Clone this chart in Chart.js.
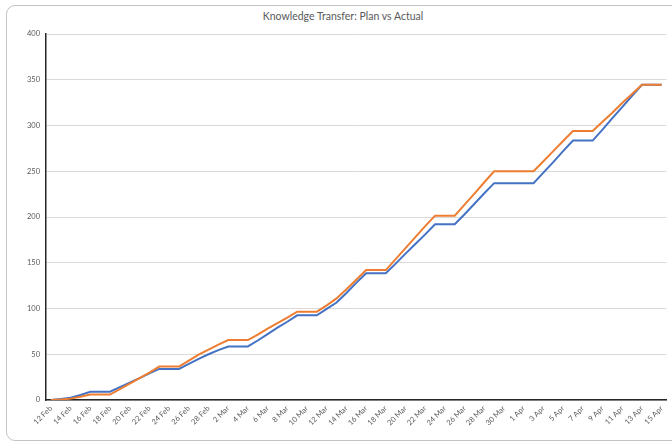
<!DOCTYPE html>
<html>
<head>
<meta charset="utf-8">
<script src="https://cdn.jsdelivr.net/npm/chart.js@4"></script>
<style>
  html, body { margin: 0; padding: 0; background: #ffffff; overflow: hidden; }
  #wrap { position: relative; width: 672px; height: 446px; overflow: hidden; }
  #frame { position: absolute; left: 6px; top: 5px; width: 700px; height: 436px;
           border: 1px solid #c4c4c4; border-radius: 9px; box-sizing: border-box; }
  #title { position: absolute; left: 0; top: 10px; width: 686px; text-align: center;
           font-family: Lato, "Open Sans", sans-serif; font-size: 10.5px; color: #595959; }
  canvas { position: absolute; left: 0; top: 0; }
</style>
</head>
<body>
<div id="wrap">
  <div id="frame"></div>
  <div id="title">Knowledge Transfer: Plan vs Actual</div>
  <canvas id="c" width="672" height="446"></canvas>
</div>
<script>
const days = [
  "12 Feb","13 Feb","14 Feb","15 Feb","16 Feb","17 Feb","18 Feb","19 Feb","20 Feb","21 Feb",
  "22 Feb","23 Feb","24 Feb","25 Feb","26 Feb","27 Feb","28 Feb","1 Mar","2 Mar","3 Mar",
  "4 Mar","5 Mar","6 Mar","7 Mar","8 Mar","9 Mar","10 Mar","11 Mar","12 Mar","13 Mar",
  "14 Mar","15 Mar","16 Mar","17 Mar","18 Mar","19 Mar","20 Mar","21 Mar","22 Mar","23 Mar",
  "24 Mar","25 Mar","26 Mar","27 Mar","28 Mar","29 Mar","30 Mar","31 Mar","1 Apr","2 Apr",
  "3 Apr","4 Apr","5 Apr","6 Apr","7 Apr","8 Apr","9 Apr","10 Apr","11 Apr","12 Apr",
  "13 Apr","14 Apr","15 Apr"
];

const plan = [
  0, 1, 2.5, 5.5, 9, 9, 9, 14, 19, 24,
  29, 34, 34, 34, 39.5, 45, 50, 54.5, 58.5, 58.5,
  58.5, 65, 72, 79, 85.5, 92.5, 92.5, 92.5, 99.5, 106.5,
  117, 128, 138.5, 138.5, 138.5, 149, 160, 170.5, 181, 192,
  192, 192, 203, 214.5, 226, 237, 237, 237, 237, 237,
  248.5, 260, 272, 283.5, 283.5, 283.5, 295.5, 308, 320, 332.5,
  344.5, 344.5, 344.5
];

const actual = [
  0, 0.5, 1.5, 3.5, 6, 6, 6, 12, 18, 24,
  30, 36.5, 36.5, 36.5, 43, 49.5, 55, 60.5, 65.5, 65.5,
  65.5, 71.5, 78, 84, 90, 96.5, 96.5, 96.5, 103.5, 111,
  121, 131.5, 142, 142, 142, 154, 166, 178, 190, 201.5,
  201.5, 201.5, 213.5, 225.5, 238, 250, 250, 250, 250, 250,
  261, 272, 283, 294, 294, 294, 304, 314, 324.5, 334.5,
  344.5, 344.5, 344.5
];

const yTicks = [0, 50, 100, 150, 200, 250, 300, 350, 400];

new Chart(document.getElementById('c'), {
  type: 'line',
  data: {
    labels: days,
    datasets: [
      { label: 'Plan', data: plan, borderColor: '#4472C4', backgroundColor: '#4472C4',
        borderWidth: 2, pointRadius: 0, tension: 0, order: 1 },
      { label: 'Actual', data: actual, borderColor: '#ED7D31', backgroundColor: '#ED7D31',
        borderWidth: 2, pointRadius: 0, tension: 0, order: 0 }
    ]
  },
  options: {
    responsive: false,
    animation: false,
    layout: { padding: { top: 34, right: 4, left: 0, bottom: 0 } },
    plugins: { legend: { display: false }, title: { display: false }, tooltip: { enabled: false } },
    scales: {
      x: {
        offset: true,
        grid: { display: false, drawTicks: false },
        border: { display: true, color: '#262626', width: 1.5 },
        ticks: {
          autoSkip: false,
          minRotation: 45, maxRotation: 45,
          padding: 4,
          color: '#595959',
          font: { family: 'Lato', size: 7.5 },
          callback: function(v, i) { return i % 2 === 0 ? days[i] : ''; }
        },
        afterFit: function(s) { s.height = 46; }
      },
      y: {
        min: 0, max: 400,
        grid: { color: '#d9d9d9', lineWidth: 1, drawTicks: false },
        border: { display: true, color: '#262626', width: 1.5 },
        afterBuildTicks: function(s) { s.ticks = yTicks.map(v => ({ value: v })); },
        ticks: {
          padding: 6,
          color: '#595959',
          font: { family: 'Lato', size: 7.5 }
        },
        afterFit: function(s) { s.width = 46; }
      }
    }
  }
});
</script>
</body>
</html>
